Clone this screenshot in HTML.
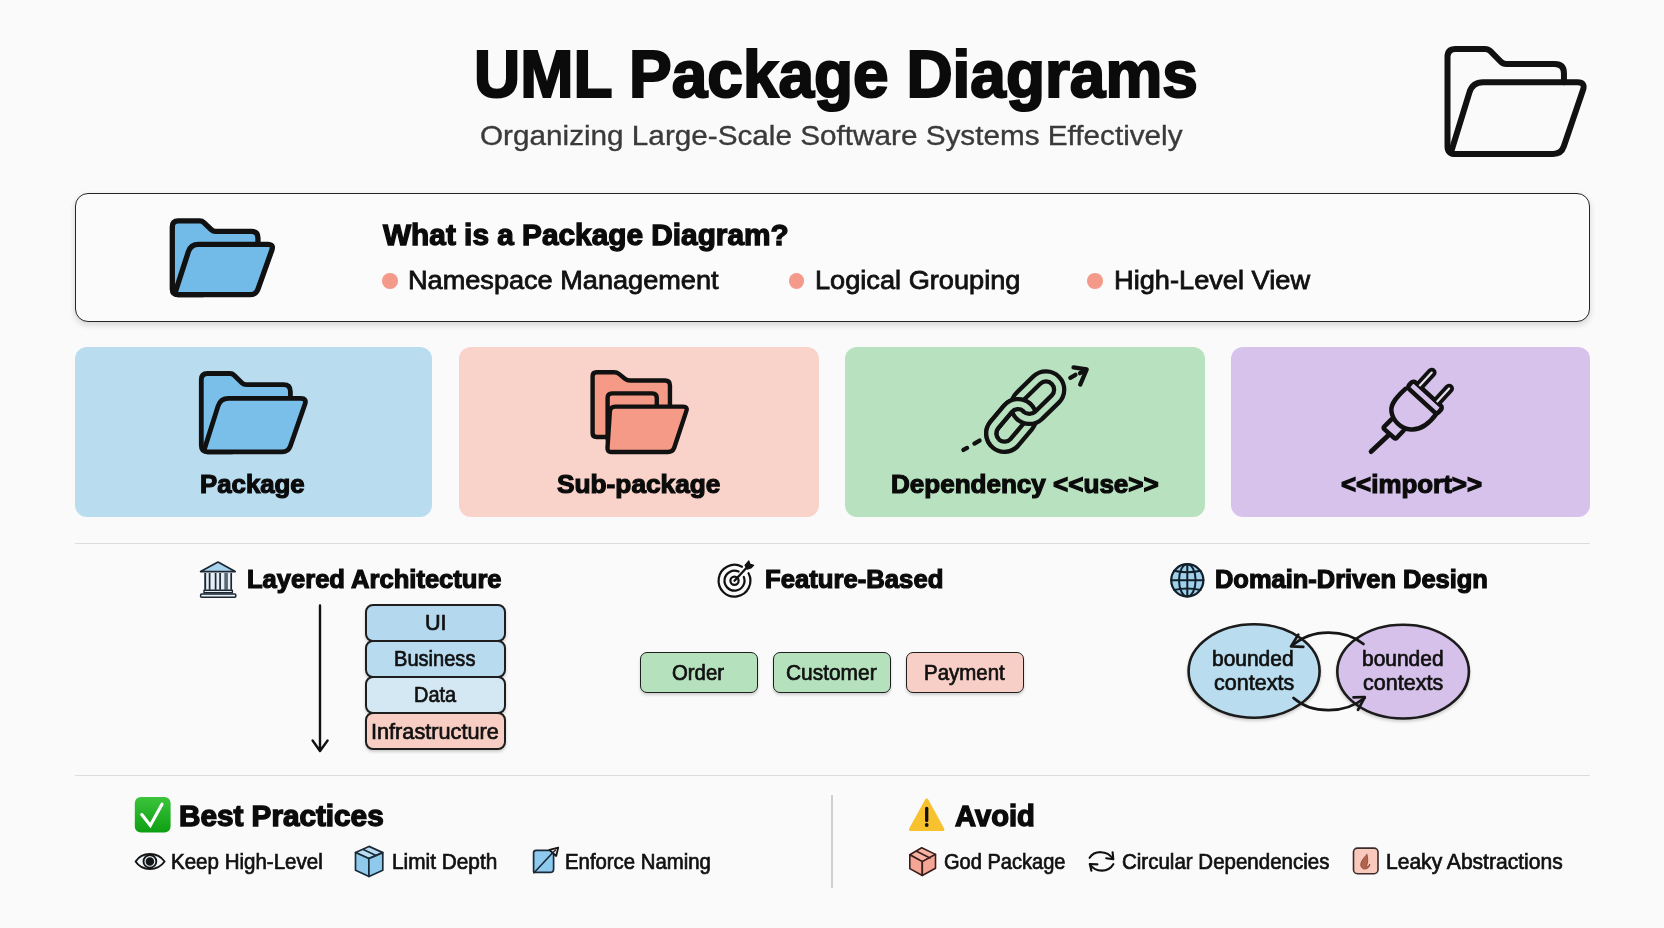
<!DOCTYPE html>
<html><head><meta charset="utf-8"><title>UML Package Diagrams</title>
<style>
html,body{margin:0;padding:0}
body{width:1664px;height:928px;position:relative;overflow:hidden;background:#fafafa;font-family:"Liberation Sans",sans-serif}
.t{position:absolute;transform-origin:0 0;white-space:pre;line-height:1;font-family:"Liberation Sans",sans-serif}
.b{font-weight:700} .r{font-weight:400}
.abs{position:absolute;box-sizing:border-box}
.card{position:absolute;top:347px;height:170px;border-radius:12px}
.lay{position:absolute;box-sizing:border-box;left:365.3px;width:140.3px;border:2px solid #1e1e1e;border-radius:8px;box-shadow:0 2px 3px rgba(0,0,0,.18)}
.feat{position:absolute;box-sizing:border-box;top:651.8px;height:40.8px;width:117.5px;border:1.9px solid #1e1e1e;border-radius:7px;box-shadow:0 2px 3px rgba(0,0,0,.18)}
.dot{position:absolute;width:15.6px;height:15.6px;border-radius:50%;background:#f49a8a;top:273.1px;margin-left:-0.3px}
.hr{position:absolute;left:74.5px;width:1515px;height:1.4px;background:#dcdcdc}
svg.ov{position:absolute;left:0;top:0}
</style></head><body>
<div class="abs" style="left:74.5px;top:193px;width:1515px;height:128.5px;border:1.8px solid #262626;border-radius:13px;background:#fbfbfb;box-shadow:0 3px 6px rgba(0,0,0,.15)"></div>
<div class="dot" style="left:382.5px"></div>
<div class="dot" style="left:789.2px"></div>
<div class="dot" style="left:1087.5px"></div>
<div class="card" style="left:74.5px;width:357.7px;background:#b9dcef"></div>
<div class="card" style="left:458.5px;width:360.5px;background:#f9d3ca"></div>
<div class="card" style="left:845px;width:359.5px;background:#b8e2bf"></div>
<div class="card" style="left:1231px;width:358.5px;background:#d6c2ea"></div>
<div class="hr" style="top:542.8px"></div>
<div class="hr" style="top:774.6px"></div>
<div class="abs" style="left:831.3px;top:794.5px;width:1.5px;height:93.5px;background:#cfcfcf"></div>
<div class="lay" style="top:603.8px;height:38.2px;background:#b4d8ee"></div>
<div class="lay" style="top:640px;height:38.3px;background:#b9dbef"></div>
<div class="lay" style="top:676.3px;height:37.9px;background:#d4e8f3"></div>
<div class="lay" style="top:712.2px;height:37.4px;background:#f8cec4"></div>
<div class="feat" style="left:640.3px;background:#b5e1bd"></div>
<div class="feat" style="left:773px;background:#b5e1bd"></div>
<div class="feat" style="left:906.2px;background:#f8cfc6"></div>

<svg class="ov" width="1664" height="928" viewBox="0 0 1664 928" fill="none" stroke-linecap="round" stroke-linejoin="round">
<path d="M1563.94,82.34L1563.94,73.13Q1563.94,63.91 1554.73,63.91L1506.26,63.91Q1503.01,63.91 1500.73,61.61L1490.41,51.21Q1488.12,48.90 1484.87,48.90L1455.62,48.90Q1447.50,48.90 1447.50,57.02L1447.50,145.88Q1447.50,154.00 1455.62,154.00L1488.12,154.00" fill="none" stroke="#111" stroke-width="6.0"/>
<path d="M1455.35,154.00Q1450.48,154.00 1451.91,149.34L1469.44,92.43Q1472.55,82.34 1483.11,82.34L1577.48,82.34Q1585.61,82.34 1582.99,90.03L1563.85,146.31Q1561.24,154.00 1553.11,154.00Z" fill="none" stroke="#111" stroke-width="6.0"/>
<path d="M178.28,294.70Q172.30,294.70 172.30,288.72L172.30,226.88Q172.30,220.90 178.28,220.90L199.79,220.90Q202.18,220.90 203.90,222.56L211.41,229.79Q213.14,231.44 215.53,231.44L250.78,231.44Q257.96,231.44 257.96,238.61L257.96,259.24Q257.96,259.24 257.96,259.24L232.06,294.70Q232.06,294.70 232.06,294.70Z" fill="#72bbe8" stroke="none"/>
<path d="M257.96,244.38L257.96,237.91Q257.96,231.44 251.49,231.44L215.53,231.44Q213.14,231.44 211.41,229.79L203.90,222.56Q202.18,220.90 199.79,220.90L178.28,220.90Q172.30,220.90 172.30,226.88L172.30,288.72Q172.30,294.70 178.28,294.70L202.18,294.70" fill="none" stroke="#111" stroke-width="5.3"/>
<path d="M178.08,294.70Q174.49,294.70 175.59,291.29L188.34,251.78Q190.73,244.38 198.49,244.38L267.92,244.38Q273.89,244.38 271.89,250.01L257.97,289.07Q255.96,294.70 249.99,294.70Z" fill="#72bbe8" stroke="#111" stroke-width="5.3"/>
<path d="M207.52,451.80Q201.30,451.80 201.30,445.58L201.30,379.72Q201.30,373.50 207.52,373.50L229.89,373.50Q232.38,373.50 234.15,375.24L242.00,382.94Q243.78,384.69 246.26,384.69L282.94,384.69Q290.40,384.69 290.40,392.14L290.40,414.18Q290.40,414.18 290.40,414.18L263.46,451.80Q263.46,451.80 263.46,451.80Z" fill="#7abfe9" stroke="none"/>
<path d="M290.40,398.41L290.40,391.55Q290.40,384.69 283.53,384.69L246.26,384.69Q243.78,384.69 242.00,382.94L234.15,375.24Q232.38,373.50 229.89,373.50L207.52,373.50Q201.30,373.50 201.30,379.72L201.30,445.58Q201.30,451.80 207.52,451.80L232.38,451.80" fill="none" stroke="#111" stroke-width="4.8"/>
<path d="M207.31,451.80Q203.58,451.80 204.70,448.24L218.03,406.12Q220.47,398.41 228.55,398.41L300.76,398.41Q306.97,398.41 304.92,404.28L290.37,445.93Q288.32,451.80 282.11,451.80Z" fill="#7abfe9" stroke="#111" stroke-width="4.8"/>
<path d="M596.60,436.93Q592.60,436.93 592.60,432.93L592.60,376.25Q592.60,372.25 596.60,372.25L613.92,372.25Q616.92,372.25 619.26,374.13L624.93,378.66Q627.27,380.53 630.27,380.53L664.96,380.53Q669.96,380.53 669.96,385.53L669.96,432.93Q669.96,436.93 665.96,436.93Z" fill="#f59a86" stroke="#111" stroke-width="4.4"/>
<path d="M609.61,440.56Q607.61,440.56 607.61,438.56L607.61,397.84Q607.61,393.34 612.11,393.34L652.27,393.34Q656.77,393.34 656.77,397.84L656.77,438.56Q656.77,440.56 654.77,440.56Z" fill="#f59a86" stroke="#111" stroke-width="4.4"/>
<path d="M611.22,451.94Q607.22,451.94 607.48,447.95L609.87,411.65Q610.19,406.66 615.19,406.66L683.31,406.66Q687.81,406.66 686.40,410.93L674.38,447.19Q672.81,451.94 667.81,451.94Z" fill="#f59a86" stroke="#111" stroke-width="4.4"/>
<defs><clipPath id="cpA"><polygon points="944.4,493.7 1106.1,329.5 1026.1,249.5 864.4,413.7"/></clipPath><clipPath id="cpB"><polygon points="944.9,494.3 1106.6,330.1 1026.6,250.1 864.9,414.3"/></clipPath></defs>
<path d="M1014.52,442.20L1028.21,425.82A13.25,13.25 0 0 0 1007.87,408.83L994.19,425.21A13.25,13.25 0 0 0 1014.52,442.20Z" stroke="#111" stroke-width="14.40"/><path d="M1014.52,442.20L1028.21,425.82A13.25,13.25 0 0 0 1007.87,408.83L994.19,425.21A13.25,13.25 0 0 0 1014.52,442.20Z" stroke="#b8e2bf" stroke-width="5.80"/>
<path d="M1038.60,415.29L1055.30,399.02A13.25,13.25 0 0 0 1036.81,380.04L1020.11,396.31A13.25,13.25 0 0 0 1038.60,415.29Z" stroke="#111" stroke-width="14.40"/><path d="M1038.60,415.29L1055.30,399.02A13.25,13.25 0 0 0 1036.81,380.04L1020.11,396.31A13.25,13.25 0 0 0 1038.60,415.29Z" stroke="#b8e2bf" stroke-width="5.80"/>
<path d="M1014.52,442.20L1028.21,425.82A13.25,13.25 0 0 0 1007.87,408.83L994.19,425.21A13.25,13.25 0 0 0 1014.52,442.20Z" stroke="#111" stroke-width="14.40" clip-path="url(#cpA)"/><path d="M1014.52,442.20L1028.21,425.82A13.25,13.25 0 0 0 1007.87,408.83L994.19,425.21A13.25,13.25 0 0 0 1014.52,442.20Z" stroke="#b8e2bf" stroke-width="5.80" clip-path="url(#cpB)"/>
<path d="M963.41,449.98L967.07,447.93" stroke="#111" stroke-width="4.3"/>
<path d="M974.40,443.51L979.57,440.60" stroke="#111" stroke-width="4.3"/>
<path d="M1070.30,377.78L1075.47,374.87" stroke="#111" stroke-width="4.3"/>
<path d="M1073.53,367.33L1086.68,369.48L1080.22,384.57" stroke="#111" stroke-width="4.3"/>
<path d="M1080.00,373.15L1085.93,369.91" stroke="#111" stroke-width="4.3"/>
<g transform="translate(1355,360) scale(0.107724)" stroke="#111" stroke-width="42">
<path d="M150,850 L318,692" stroke-width="46"/>
<path d="M338,552 L274,616 Q260,630 274,644 L362,722 Q376,734 390,720 L452,655"/>
<path d="M468,268 C 395,335 328,405 338,475 C 348,560 425,640 520,645 C 605,650 690,590 757,498"/>
<g transform="translate(650,347) rotate(42.5)"><rect x="-186" y="-42" width="372" height="84" rx="26"/><path d="M-137,-42 V-212 a27.5,27.5 0 0 1 55,0 V-42" stroke-width="35" fill="#e9e0f0"/><path d="M82,-42 V-212 a27.5,27.5 0 0 1 55,0 V-42" stroke-width="35" fill="#e9e0f0"/></g>
</g>
<g stroke="#1b2733" stroke-width="1.7">
<path d="M218,562 L235.2,571.6 H200.6 Z" fill="#a8d3ec"/>
<rect x="204.6" y="573" width="27" height="16.8" fill="#e4eef5" stroke="none"/>
<path d="M205.2,573 V589.8" stroke="#1b2733" stroke-width="1.9" stroke-linecap="butt"/>
<path d="M209.6,573 V589.8" stroke="#1b2733" stroke-width="1.7" stroke-linecap="butt"/>
<path d="M215.6,573 V589.8" stroke="#1b2733" stroke-width="1.7" stroke-linecap="butt"/>
<path d="M220.1,573 V589.8" stroke="#1b2733" stroke-width="1.7" stroke-linecap="butt"/>
<path d="M226.1,573 V589.8" stroke="#596875" stroke-width="3.6" stroke-linecap="butt"/>
<path d="M231.2,573 V589.8" stroke="#1b2733" stroke-width="1.7" stroke-linecap="butt"/>
<rect x="204" y="590.3" width="28.4" height="2.4" fill="#e4eef5" stroke-width="1.4"/>
<rect x="200.6" y="594" width="35.2" height="3.2" rx="1" fill="#e4eef5" stroke-width="1.5"/>
</g>
<g stroke="#111" stroke-width="2.2">
<path d="M748.54,573.24A15.9,15.9 0 1 1 741.96,566.66"/>
<path d="M743.77,576.95A10.0,10.0 0 1 1 738.57,571.56"/>
<circle cx="734.5" cy="580.7" r="4.1"/>
<path d="M734.5,580.7 L748.2,566" stroke-width="2.3"/>
<path d="M745,565.3 L748.8,561 L749.9,564.2 L753.6,565.3 L750.9,568 L747.2,569.1 Z" fill="#111" stroke-width="1.2"/>
</g>
<g stroke="#12202b" stroke-width="2">
<circle cx="1187.3" cy="580.3" r="16.1" fill="#9fd0ec" stroke-width="2.2"/>
<path d="M1187.3,564.1999999999999 V596.4 M1171.2,580.3 H1203.3999999999999"/>
<ellipse cx="1187.3" cy="580.3" rx="8.3" ry="16.1"/>
<path d="M1174.0,570.6999999999999 Q1187.3,573.6999999999999 1200.6,570.6999999999999 M1174.0,589.9 Q1187.3,586.9 1200.6,589.9"/>
</g>
<defs><filter id="sh" x="-20%" y="-20%" width="140%" height="150%"><feDropShadow dx="0" dy="2" stdDeviation="1.5" flood-opacity="0.18"/></filter></defs>
<ellipse cx="1254.1" cy="671" rx="65.5" ry="46.7" fill="#b9dcef" stroke="#1a1a1a" stroke-width="2.6" filter="url(#sh)"/>
<ellipse cx="1403.1" cy="671.6" rx="65.8" ry="46.9" fill="#d5c1ea" stroke="#1a1a1a" stroke-width="2.6" filter="url(#sh)"/>
<g stroke="#161616" stroke-width="2.7">
<path d="M1363.5,644 C1345,629 1312,628 1292.5,645.5"/>
<path d="M1298.3,634.6 L1291,646.4 L1303.3,646.8"/>
<path d="M1293.5,698 C1312,714.5 1345,714 1364.5,698"/>
<path d="M1353.5,697.3 L1364.8,697 L1358,709.8"/>
</g>
<path d="M320,605.5 V750.5 M312.6,740.5 L320,751 L327.6,740.5" stroke="#111" stroke-width="2.4"/>
<defs><linearGradient id="gr" x1="0" y1="0" x2="0" y2="1"><stop offset="0" stop-color="#3cc43c"/><stop offset="1" stop-color="#0d9f12"/></linearGradient></defs>
<rect x="134.8" y="797" width="35.8" height="35.6" rx="6" fill="url(#gr)"/>
<path d="M141.8,814.6 L150.3,825.4 L162,804.2" stroke="#fff" stroke-width="3.2" stroke-linejoin="miter"/>
<g stroke="#151515" stroke-width="1.9">
<path d="M135.6,861.5 C142,851.5 157.6,851.5 164.6,861.5 C157.6,871.5 142,871.5 135.6,861.5 Z" fill="#f4f7fa"/>
<circle cx="149.9" cy="861.4" r="6.4" fill="#dfeaf2"/>
<circle cx="149.9" cy="861.4" r="3.3" fill="#151515"/>
</g>
<g stroke="#1a2a38" stroke-width="1.7"><path d="M355.5,852.6 L369.0,846.4 L382.8,852.6 L368.8,858.6 Z" fill="#b9dcf1"/><path d="M355.5,852.6 L368.8,858.6 L369.0,876.5 L355.5,870.3 Z" fill="#8fc9ec"/><path d="M382.8,852.6 L368.8,858.6 L369.0,876.5 L382.8,870.3 Z" fill="#8fc9ec"/><path d="M363.3,849.5 L376.0,855.4"/></g>
<g stroke="#1a2a38" stroke-width="1.7">
<path d="M533.60,852.80Q533.60,850.30 536.10,850.30L551.10,850.30Q553.60,850.30 553.60,852.80L553.60,868.90Q553.60,872.40 550.10,872.40L534.60,872.40Q533.60,872.40 533.60,871.40Z" fill="#8ecaee"/>
<path d="M534,872.8 L552,853.5" stroke-width="1.6"/>
<path d="M558.2,847.6 L549.4,849.8 L556.2,856 Z" fill="#f7e3dc" stroke="#151515" stroke-width="1.8"/>
<path d="M552,853.5 L555.5,850" stroke-width="1.4"/>
</g>
<path d="M925.01,799.67Q926.70,796.60 928.39,799.67L943.91,827.93Q945.60,831.00 942.10,831.00L911.30,831.00Q907.80,831.00 909.49,827.93Z" fill="#f7c22e"/>
<path d="M926.7,808.5 V820.5" stroke="#111" stroke-width="3.3"/><circle cx="926.7" cy="825" r="1.9" fill="#111"/>
<g stroke="#3a1e1a" stroke-width="1.6"><path d="M909.8,854.8 L921.7,847.7 L935.5,854.4 L922.3,861.6 Z" fill="#f6b3a4"/><path d="M909.8,854.8 L922.3,861.6 L922.3,875.5 L909.8,868.6 Z" fill="#f4a595"/><path d="M935.5,854.4 L922.3,861.6 L922.3,875.5 L935.5,868.2 Z" fill="#f4a595"/><path d="M916.6,851.3 L930.0,858.0"/></g>
<g stroke="#111" stroke-width="2.1">
<path d="M1089.6,857.8 C1094,850.6 1107,849.6 1113,859"/><path d="M1112.6,852.2 L1113.3,859.3 L1106.2,858.2"/>
<path d="M1113.3,864.2 C1108.5,872.6 1095.5,872.8 1089.9,864.2"/><path d="M1091.4,870.8 L1089.8,864 L1097.4,864.4"/>
</g>
<rect x="1353.5" y="848.1" width="24.5" height="25.6" rx="4" fill="#f8c9bc" stroke="#3a2c2c" stroke-width="1.6"/>
<path d="M1366.9,854.6 C1363.5,858 1361,861.5 1360.7,864.3 C1360.6,867 1362.5,869 1364.6,869 C1367.5,869 1370,866.8 1369.8,864 C1369,866 1367.5,867 1366.3,866.4 C1368.3,862.5 1368,858 1366.9,854.6 Z" fill="#b3644c" stroke="#8a4430" stroke-width="0.8"/>
</svg>
<div class="t b" style="left:474.2px;top:40.3px;font-size:67.0px;transform:scaleX(0.9544);color:#0b0b0b;-webkit-text-stroke:2.2px">UML Package Diagrams</div>
<div class="t r" style="left:479.5px;top:121.7px;font-size:27.5px;transform:scaleX(1.0798);color:#3a3a3a;-webkit-text-stroke:0.35px">Organizing Large-Scale Software Systems Effectively</div>
<div class="t b" style="left:383.0px;top:220.5px;font-size:29.0px;transform:scaleX(1.0275);color:#0b0b0b;-webkit-text-stroke:1.3px">What is a Package Diagram?</div>
<div class="t r" style="left:408.0px;top:267.1px;font-size:26.5px;transform:scaleX(1.0233);color:#111;-webkit-text-stroke:0.8px">Namespace Management</div>
<div class="t r" style="left:814.9px;top:267.1px;font-size:26.5px;transform:scaleX(1.0254);color:#111;-webkit-text-stroke:0.8px">Logical Grouping</div>
<div class="t r" style="left:1113.9px;top:267.1px;font-size:26.5px;transform:scaleX(1.0265);color:#111;-webkit-text-stroke:0.8px">High-Level View</div>
<div class="t b" style="left:200.4px;top:471.0px;font-size:26.0px;transform:scaleX(0.9922);color:#0b0b0b;-webkit-text-stroke:1.2px">Package</div>
<div class="t b" style="left:557.4px;top:471.0px;font-size:26.0px;transform:scaleX(1.0100);color:#0b0b0b;-webkit-text-stroke:1.2px">Sub-package</div>
<div class="t b" style="left:890.6px;top:471.0px;font-size:26.0px;transform:scaleX(1.0015);color:#0b0b0b;-webkit-text-stroke:1.2px">Dependency &lt;&lt;use&gt;&gt;</div>
<div class="t b" style="left:1340.6px;top:471.0px;font-size:26.0px;transform:scaleX(0.9957);color:#0b0b0b;-webkit-text-stroke:1.2px">&lt;&lt;import&gt;&gt;</div>
<div class="t b" style="left:247.2px;top:567.4px;font-size:25.5px;transform:scaleX(1.0016);color:#0b0b0b;-webkit-text-stroke:1.2px">Layered Architecture</div>
<div class="t b" style="left:764.6px;top:567.2px;font-size:25.5px;transform:scaleX(1.0069);color:#0b0b0b;-webkit-text-stroke:1.2px">Feature-Based</div>
<div class="t b" style="left:1214.6px;top:567.2px;font-size:25.5px;transform:scaleX(0.9978);color:#0b0b0b;-webkit-text-stroke:1.2px">Domain-Driven Design</div>
<div class="t r" style="left:424.8px;top:612.4px;font-size:21.8px;transform:scaleX(0.9889);color:#111;-webkit-text-stroke:0.7px">UI</div>
<div class="t r" style="left:394.4px;top:648.2px;font-size:21.8px;transform:scaleX(0.9209);color:#111;-webkit-text-stroke:0.7px">Business</div>
<div class="t r" style="left:413.8px;top:684.4px;font-size:21.8px;transform:scaleX(0.9136);color:#111;-webkit-text-stroke:0.7px">Data</div>
<div class="t r" style="left:371.0px;top:720.5px;font-size:21.8px;transform:scaleX(0.9952);color:#111;-webkit-text-stroke:0.7px">Infrastructure</div>
<div class="t r" style="left:672.1px;top:661.6px;font-size:21.8px;transform:scaleX(0.9333);color:#111;-webkit-text-stroke:0.7px">Order</div>
<div class="t r" style="left:786.0px;top:661.6px;font-size:21.8px;transform:scaleX(0.9591);color:#111;-webkit-text-stroke:0.7px">Customer</div>
<div class="t r" style="left:924.3px;top:661.6px;font-size:21.8px;transform:scaleX(0.9381);color:#111;-webkit-text-stroke:0.7px">Payment</div>
<div class="t r" style="left:1212.2px;top:647.9px;font-size:21.8px;transform:scaleX(0.9614);color:#111;-webkit-text-stroke:0.7px">bounded</div>
<div class="t r" style="left:1213.6px;top:671.6px;font-size:21.8px;transform:scaleX(0.9873);color:#111;-webkit-text-stroke:0.7px">contexts</div>
<div class="t r" style="left:1361.8px;top:647.9px;font-size:21.8px;transform:scaleX(0.9614);color:#111;-webkit-text-stroke:0.7px">bounded</div>
<div class="t r" style="left:1363.2px;top:671.6px;font-size:21.8px;transform:scaleX(0.9873);color:#111;-webkit-text-stroke:0.7px">contexts</div>
<div class="t b" style="left:178.9px;top:801.9px;font-size:28.7px;transform:scaleX(1.0349);color:#0b0b0b;-webkit-text-stroke:1.4px">Best Practices</div>
<div class="t b" style="left:955.4px;top:801.9px;font-size:28.7px;transform:scaleX(1.0158);color:#0b0b0b;-webkit-text-stroke:1.4px">Avoid</div>
<div class="t r" style="left:171.3px;top:850.8px;font-size:21.8px;transform:scaleX(0.9418);color:#111;-webkit-text-stroke:0.7px">Keep High-Level</div>
<div class="t r" style="left:391.7px;top:850.8px;font-size:21.8px;transform:scaleX(0.9551);color:#111;-webkit-text-stroke:0.7px">Limit Depth</div>
<div class="t r" style="left:565.1px;top:850.8px;font-size:21.8px;transform:scaleX(0.9333);color:#111;-webkit-text-stroke:0.7px">Enforce Naming</div>
<div class="t r" style="left:943.5px;top:850.8px;font-size:21.8px;transform:scaleX(0.9200);color:#111;-webkit-text-stroke:0.7px">God Package</div>
<div class="t r" style="left:1122.1px;top:850.8px;font-size:21.8px;transform:scaleX(0.9406);color:#111;-webkit-text-stroke:0.7px">Circular Dependencies</div>
<div class="t r" style="left:1386.3px;top:850.8px;font-size:21.8px;transform:scaleX(0.9656);color:#111;-webkit-text-stroke:0.7px">Leaky Abstractions</div>
</body></html>
